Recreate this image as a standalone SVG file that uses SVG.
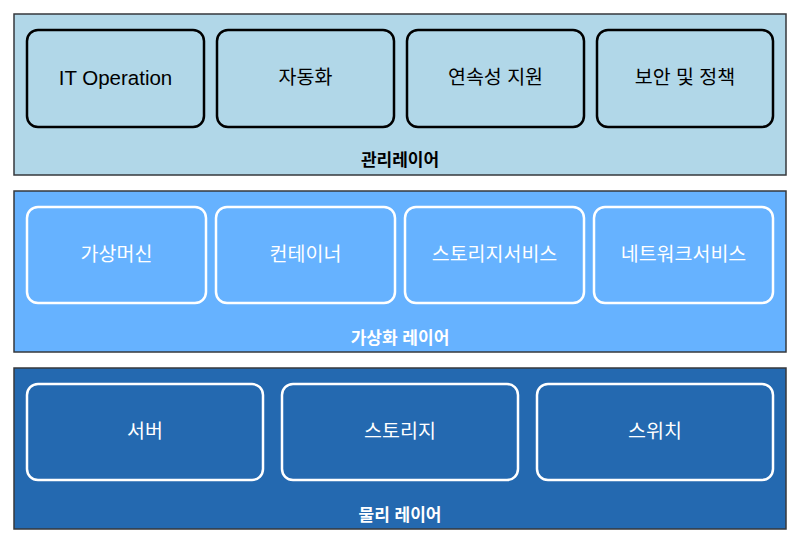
<svg xmlns="http://www.w3.org/2000/svg" width="800" height="543" viewBox="0 0 800 543">
<style>
.layer{stroke:#36393d;stroke-width:1.5}
.n1{fill:#b1d7e8;stroke:#000;stroke-width:2.5}
.n2{fill:#66b2ff;stroke:#fff;stroke-width:2.5}
.n3{fill:#2469b0;stroke:#fff;stroke-width:2.5}
text{font-family:"Liberation Sans","Noto Sans CJK KR",sans-serif;text-anchor:middle;dominant-baseline:central}
.t{font-size:19.5px}
.tl{font-size:20.5px}
.lt{font-size:17px;font-weight:bold}
</style>
<rect width="800" height="543" fill="#fff"/>
<g id="layer-mgmt">
<rect class="layer" x="14" y="14" width="772" height="161" fill="#b1d7e8"/>
<text class="lt" x="400" y="160" fill="#000">관리레이어</text>
</g>
<g id="layer-virt">
<rect class="layer" x="14" y="191" width="772" height="161" fill="#66b2ff"/>
<text class="lt" x="400" y="338" fill="#fff">가상화 레이어</text>
</g>
<g id="layer-phys">
<rect class="layer" x="14" y="368" width="772" height="161" fill="#2469b0"/>
<text class="lt" x="400" y="515" fill="#fff">물리 레이어</text>
</g>
<g id="it-operation"><rect class="n1" x="27" y="30" width="177" height="97" rx="11"/><text class="tl" x="115.5" y="77" fill="#000">IT Operation</text></g>
<g id="automation"><rect class="n1" x="217" y="30" width="177" height="97" rx="11"/><text class="t" x="305.5" y="77" fill="#000">자동화</text></g>
<g id="continuity"><rect class="n1" x="407" y="30" width="177" height="97" rx="11"/><text class="t" x="495.5" y="77" fill="#000">연속성 지원</text></g>
<g id="security"><rect class="n1" x="597" y="30" width="176" height="97" rx="11"/><text class="t" x="685" y="77" fill="#000">보안 및 정책</text></g>
<g id="vm"><rect class="n2" x="27" y="207" width="179" height="96" rx="11"/><text class="t" x="116.5" y="254" fill="#fff">가상머신</text></g>
<g id="container"><rect class="n2" x="216" y="207" width="179" height="96" rx="11"/><text class="t" x="305.5" y="254" fill="#fff">컨테이너</text></g>
<g id="storage-svc"><rect class="n2" x="405" y="207" width="179" height="96" rx="11"/><text class="t" x="494.5" y="254" fill="#fff">스토리지서비스</text></g>
<g id="network-svc"><rect class="n2" x="594" y="207" width="179" height="96" rx="11"/><text class="t" x="683.5" y="254" fill="#fff">네트워크서비스</text></g>
<g id="server"><rect class="n3" x="27" y="384" width="236" height="96" rx="11"/><text class="t" x="145" y="431" fill="#fff">서버</text></g>
<g id="storage"><rect class="n3" x="282" y="384" width="236" height="96" rx="11"/><text class="t" x="400" y="431" fill="#fff">스토리지</text></g>
<g id="switch"><rect class="n3" x="537" y="384" width="236" height="96" rx="11"/><text class="t" x="655" y="431" fill="#fff">스위치</text></g>
<g id="connectors"></g>
</svg>
